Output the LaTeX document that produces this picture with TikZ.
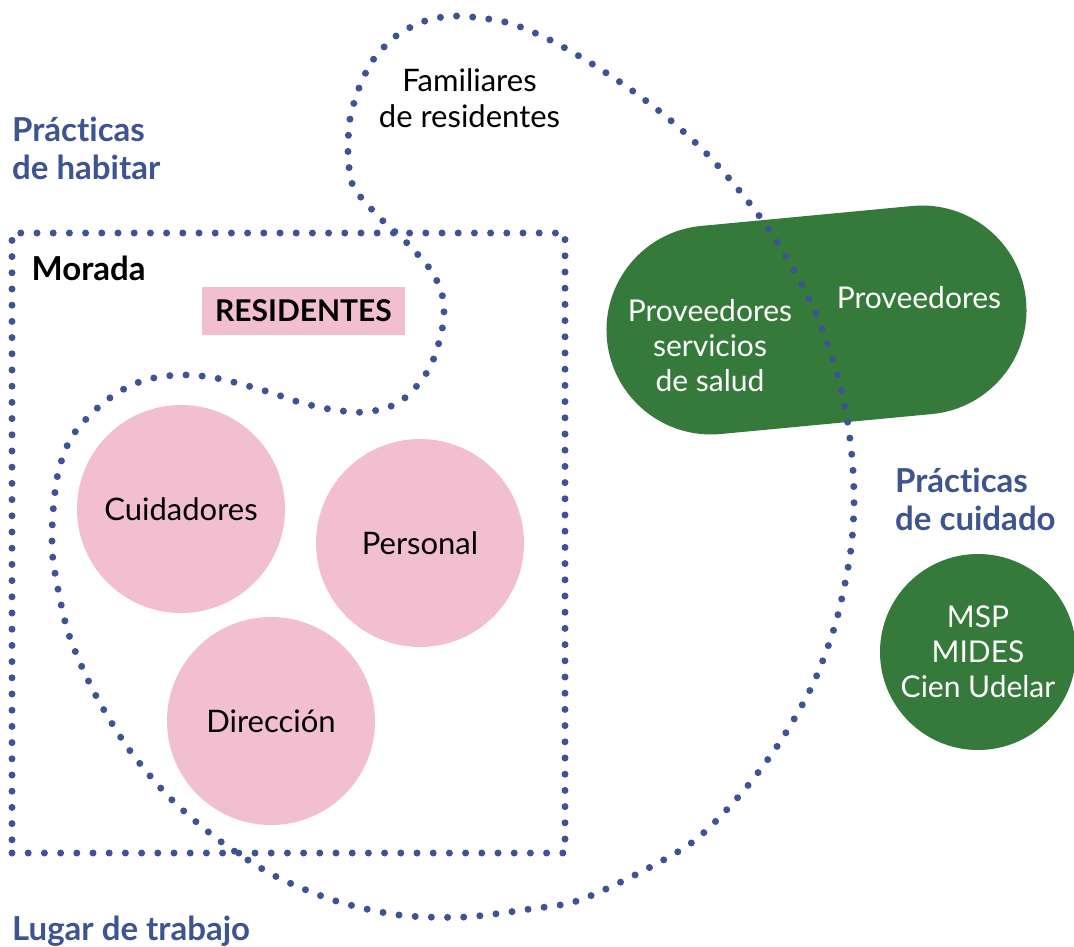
\documentclass[tikz,border=0pt]{standalone}
\usepackage{fontspec}
\setmainfont{Lato}[Ligatures=NoCommon]
\usetikzlibrary{positioning, shapes.misc}

\definecolor{dotblue}{RGB}{61,84,145}
\definecolor{rolepink}{RGB}{241,191,208}
\definecolor{provgreen}{RGB}{54,122,59}

\newcommand{\regtext}{\fontsize{31}{36}\selectfont}
\newcommand{\greentext}{\fontsize{30}{35}\selectfont}
\newcommand{\headtext}{\fontsize{33}{38}\selectfont\bfseries}

\begin{document}
\begin{tikzpicture}[
  x=1pt, y=1pt,
  dotline/.style={draw=dotblue, line width=7pt, line cap=round, dash pattern=on 0pt off 16.2pt},
  role/.style={circle, fill=rolepink, minimum size=208pt, inner sep=0pt, font=\regtext},
  pill/.style={rounded rectangle, fill=provgreen, minimum width=421pt, minimum height=209pt, inner sep=0pt},
  agency/.style={circle, fill=provgreen, minimum size=196pt, inner sep=0pt, text=white, align=center, font=\greentext},
  heading/.style={font=\headtext, text=dotblue, align=left, anchor=base west, inner sep=0pt},
  plaintext/.style={font=\regtext, align=center, inner sep=0pt}
]
\useasboundingbox (0,0) rectangle (1074,-947);

% care providers
\node[pill, rotate=5.4] (prov) at (816.5,-320) {};
\node[plaintext, font=\greentext, text=white] (salud) at (710,-346) {Proveedores\\servicios\\de salud};
\node[plaintext, font=\greentext, text=white, anchor=base] (otros) at (919,-308) {Proveedores};
\node[agency] (estado) at (978,-652) {MSP\\MIDES\\Cien Udelar};

% dwelling
\node[dotline, minimum width=553pt, minimum height=620pt, inner sep=0pt] (morada) at (288.5,-543) {};
\node[font=\headtext, anchor=base west, inner sep=0pt] (moradatxt) at ([xshift=23pt, yshift=-51pt]morada.north west) {Morada};
\node[fill=rolepink, minimum width=203pt, minimum height=48pt, inner sep=0pt, font=\fontsize{30}{36}\selectfont\bfseries] (residentes) at (303.5,-311) {RESIDENTES};

% workplace outline
\draw[dotline] plot[smooth cycle] coordinates {
  (457,-16) (505,-22) (546,-38) (589,-62) (630,-89) (669,-119) (705,-152)
  (738,-189) (768,-228) (794,-270) (816,-314) (833,-360) (845,-407)
  (852,-457) (854,-505) (850,-556) (836,-622) (813,-684) (780,-742)
  (740,-795) (694,-841) (637,-874) (577,-901) (530,-909) (465,-917)
  (399,-915) (336,-901) (275,-876) (220,-841) (170,-798) (128,-748)
  (94,-692) (68,-632) (54,-567) (52,-535) (54,-501) (59,-469) (71,-438)
  (92,-413) (117,-393) (145,-380) (178,-375) (210,-377) (241,-384)
  (272,-393) (302,-403) (335,-410) (367,-412) (398,-403) (421,-381)
  (434,-358) (442,-330) (444,-311) (442,-294) (436,-279) (427,-265)
  (405,-241) (381,-219) (359,-195) (351,-180) (348,-152) (350,-119)
  (359,-88) (373,-60) (396,-36) (425,-21)};

\node[plaintext] (familia) at (469.5,-98) {Familiares\\de residentes};

% roles
\node[role] (cuid) at (181,-509) {Cuidadores};
\node[role] (pers) at (420,-543) {Personal};
\node[role] (dir) at (271,-721) {Dirección};

% practices
\node[heading] (habitar) at (12,-179) {Prácticas\\de habitar};
\node[heading] (cuidado) at (895,-530) {Prácticas\\de cuidado};
\node[heading] (lugar) at (12,-940) {Lugar de trabajo};
\end{tikzpicture}
\end{document}
